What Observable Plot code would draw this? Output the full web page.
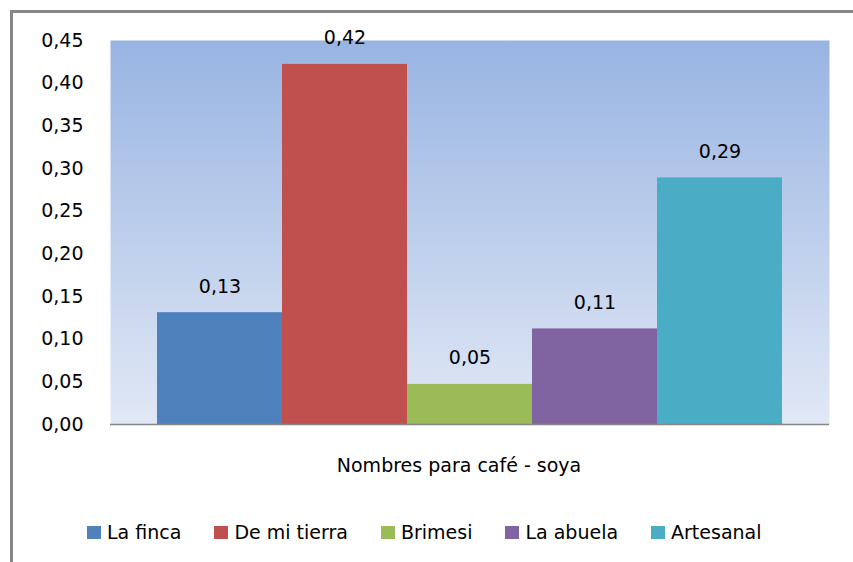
<!DOCTYPE html>
<html>
<head>
<meta charset="utf-8">
<script src="https://cdn.jsdelivr.net/npm/d3@7"></script>
<script src="https://cdn.jsdelivr.net/npm/@observablehq/plot@0.6"></script>
<style>
  html, body { margin: 0; padding: 0; background: #fff; width: 853px; height: 562px; overflow: hidden; }
  body { position: relative; font-family: "DejaVu Sans", sans-serif; }
  #frame { position: absolute; left: 10px; top: 10px; width: 900px; height: 600px; border: 3px solid #868686; box-sizing: border-box; }
  #chart { position: absolute; left: 0; top: 0; }
  #legend { position: absolute; left: 87px; top: 521px; display: flex; gap: 33px; font-size: 19px; color: #000; }
  #legend .item { display: flex; align-items: center; gap: 6px; white-space: nowrap; }
  #legend .sw { width: 14px; height: 13px; display: inline-block; }
</style>
</head>
<body>
<div id="frame"></div>
<div id="chart"></div>
<div id="legend"></div>
<script>
const categories = ["La finca", "De mi tierra", "Brimesi", "La abuela", "Artesanal"];
const values = [0.131, 0.422, 0.047, 0.112, 0.289];
const labels = ["0,13", "0,42", "0,05", "0,11", "0,29"];
const colors = ["#4f81bd", "#c0504d", "#9bbb59", "#8064a2", "#4bacc6"];
const yTicks = [0, 0.05, 0.10, 0.15, 0.20, 0.25, 0.30, 0.35, 0.40, 0.45];
const axisTitle = "Nombres para café - soya";

const data = categories.map((c, i) => ({name: c, value: values[i], label: labels[i]}));
const fmt = v => v.toFixed(2).replace(".", ",");

const svg = Plot.plot({
  width: 853,
  height: 490,
  marginLeft: 110,
  marginRight: 24,
  marginTop: 40,
  marginBottom: 66,
  style: {fontFamily: "DejaVu Sans, sans-serif", fontSize: "19px", color: "#000", background: "transparent", overflow: "visible"},
  x: {type: "band", domain: categories, padding: 0, insetLeft: 46, insetRight: 47, axis: null},
  y: {domain: [0, 0.45], axis: null},
  color: {domain: categories, range: colors},
  marks: [
    Plot.frame({fill: "url(#bg)", stroke: null}),
    Plot.barY(data, {x: "name", y: "value", fill: "name"}),
    Plot.text(data, {x: "name", y: "value", text: "label", dy: -26, lineAnchor: "middle", fontSize: 19, fill: "#000"}),
    Plot.ruleX([0], {frameAnchor: "left", stroke: "#868686", strokeWidth: 1.5}),
    Plot.ruleY([0], {stroke: "#868686", strokeWidth: 1.5}),
    Plot.axisY({ticks: yTicks, tickFormat: fmt, tickSize: 0, tickPadding: 27, label: null, fontSize: 19}),
    Plot.text([axisTitle], {frameAnchor: "bottom", dy: 41, dx: -11, lineAnchor: "middle", fontSize: 19, fill: "#000"})
  ]
});

svg.insertAdjacentHTML("afterbegin",
  '<defs><linearGradient id="bg" x1="0" y1="0" x2="0" y2="1">' +
  '<stop offset="0" stop-color="#98b4e2"/>' +
  '<stop offset="1" stop-color="#e1e8f5"/>' +
  '</linearGradient></defs>');

document.getElementById("chart").appendChild(svg);

const legend = document.getElementById("legend");
categories.forEach((c, i) => {
  const item = document.createElement("div");
  item.className = "item";
  const sw = document.createElement("span");
  sw.className = "sw";
  sw.style.background = colors[i];
  const t = document.createElement("span");
  t.textContent = c;
  item.appendChild(sw);
  item.appendChild(t);
  legend.appendChild(item);
});
</script>
</body>
</html>
